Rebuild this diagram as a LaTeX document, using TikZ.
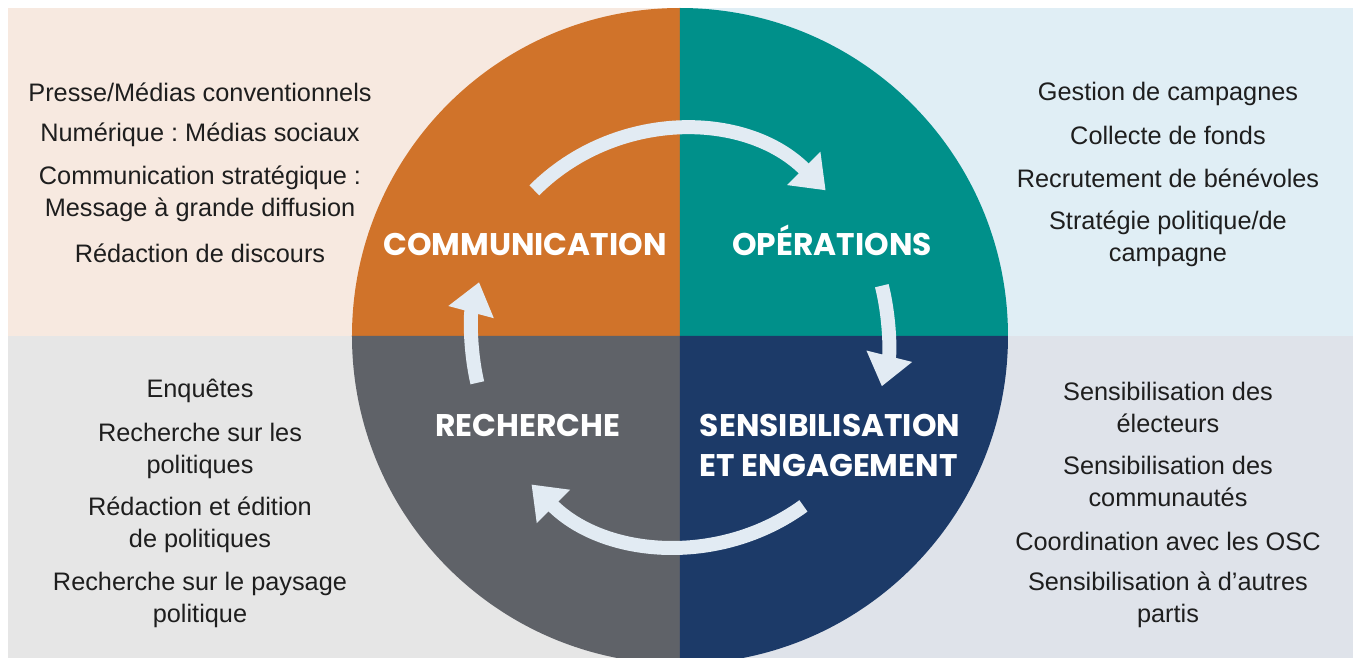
\documentclass[tikz,border=0pt]{standalone}
\usepackage{fontspec}
\setmainfont{Liberation Sans}
\newfontfamily\headfont{Poppins}
\usetikzlibrary{arrows.meta}

\definecolor{commcol}{HTML}{D0732A}
\definecolor{opercol}{HTML}{00908A}
\definecolor{rechcol}{HTML}{5F6268}
\definecolor{senscol}{HTML}{1C3A68}
\definecolor{arrowcol}{HTML}{E2EBF3}
\definecolor{bgtl}{HTML}{F7E9E0}
\definecolor{bgtr}{HTML}{E0EEF5}
\definecolor{bgbl}{HTML}{E6E6E6}
\definecolor{bgbr}{HTML}{DFE3EA}
\definecolor{txtcol}{HTML}{1E1E1E}

\begin{document}
\begin{tikzpicture}[
    item/.style={align=center, text=txtcol, inner sep=0pt, font=\frenchspacing\fontsize{14.4}{18.2}\selectfont},
    head/.style={align=center, text=white, inner sep=0pt, anchor=base, font=\headfont\bfseries\fontsize{17.8}{22.8}\selectfont},
    cyclearrow/.style={draw=arrowcol, line width=0.28cm, -{Triangle[width=0.9cm,length=0.62cm]}}
]
    \useasboundingbox (-13.6,-6.44) rectangle (13.46,6.72);

    \fill[bgtl] (-13.44,0) rectangle (0,6.56);
    \fill[bgtr] (0,0) rectangle (13.46,6.56);
    \fill[bgbl] (-13.44,-6.44) rectangle (0,0);
    \fill[bgbr] (0,-6.44) rectangle (13.46,0);

    \begin{scope}
        \clip (-13.6,-6.44) rectangle (13.46,6.72);
        \fill[commcol] (0,0) -- (90:6.56) arc[start angle=90, end angle=180, radius=6.56] -- cycle;
        \fill[opercol] (0,0) -- (0:6.56) arc[start angle=0, end angle=90, radius=6.56] -- cycle;
        \fill[rechcol] (0,0) -- (180:6.56) arc[start angle=180, end angle=270, radius=6.56] -- cycle;
        \fill[senscol] (0,0) -- (270:6.56) arc[start angle=270, end angle=360, radius=6.56] -- cycle;
    \end{scope}

    \coordinate (topS) at (135:4.12);
    \coordinate (rightS) at (14:4.16);
    \coordinate (botS) at (-54:4.2);
    \coordinate (leftS) at (193:4.16);
    \draw[cyclearrow] (topS) arc[start angle=135, end angle=45, radius=4.12];
    \draw[cyclearrow] (rightS) arc[start angle=14, end angle=-14, radius=4.16];
    \draw[cyclearrow] (botS) arc[start angle=-54, end angle=-135, radius=4.2];
    \draw[cyclearrow] (leftS) arc[start angle=193, end angle=165, radius=4.16];

    \node (comm) [head] at (-3.1,1.6) {COMMUNICATION};
    \node (oper) [head] at (3.04,1.6) {OPÉRATIONS};
    \node (rech) [head] at (-3.04,-2.0) {RECHERCHE};
    \node (sens) [head, anchor=center, align=left] at (3.0,-2.18) {SENSIBILISATION\\ET ENGAGEMENT};

    \node (presse) [item] at (-9.6,4.88) {Presse/Médias conventionnels};
    \node (numer) [item] at (-9.6,4.02) {Numérique : Médias sociaux};
    \node (strat) [item] at (-9.6,2.84) {Communication stratégique :\\Message à grande diffusion};
    \node (discours) [item] at (-9.6,1.66) {Rédaction de discours};

    \node (gestion) [item] at (9.76,4.84) {Gestion de campagnes};
    \node (fonds) [item] at (9.76,4.02) {Collecte de fonds};
    \node (benev) [item] at (9.76,3.16) {Recrutement de bénévoles};
    \node (polit) [item] at (9.76,1.95) {Stratégie politique/de\\campagne};

    \node (enq) [item] at (-9.6,-1.10) {Enquêtes};
    \node (rpol) [item] at (-9.6,-2.29) {Recherche sur les\\politiques};
    \node (redac) [item] at (-9.6,-3.78) {Rédaction et édition\\de politiques};
    \node (paysage) [item] at (-9.6,-5.27) {Recherche sur le paysage\\politique};

    \node (electeurs) [item] at (9.76,-1.42) {Sensibilisation des\\électeurs};
    \node (commun) [item] at (9.76,-2.91) {Sensibilisation des\\communautés};
    \node (osc) [item] at (9.76,-4.10) {Coordination avec les OSC};
    \node (partis) [item] at (9.76,-5.27) {Sensibilisation à d’autres\\partis};
\end{tikzpicture}
\end{document}
